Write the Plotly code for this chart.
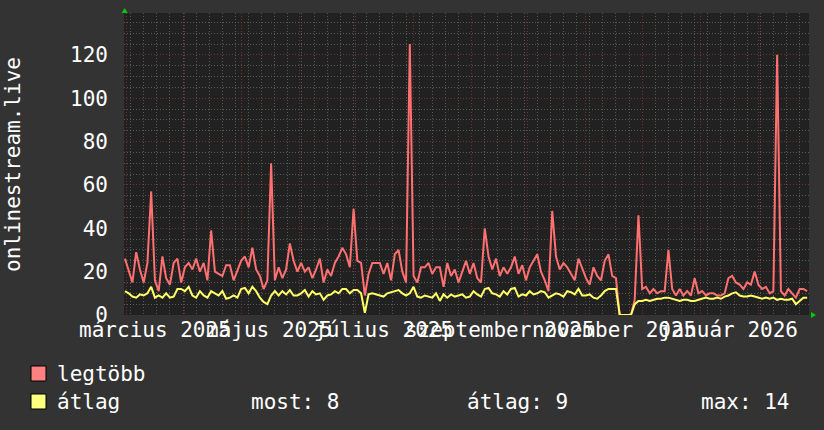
import plotly.graph_objects as go
import pandas as pd

# ---------------- data (2-day samples) ----------------
start_date = "2025-02-28"
step = "2D"

legtobb = [
    26, 20, 15, 29, 21, 15, 24, 57, 16, 11,
    27, 17, 14, 24, 26, 15, 22, 24, 21, 26,
    20, 24, 16, 39, 20, 19, 18, 23, 23, 16,
    21, 25, 27, 22, 31, 21, 18, 12, 16, 70,
    16, 22, 17, 21, 33, 25, 20, 24, 20, 22,
    17, 21, 26, 15, 21, 18, 24, 27, 31, 28,
    22, 49, 25, 24, 9, 19, 24, 24, 24, 19,
    24, 16, 28, 30, 20, 15, 125, 18, 15, 22,
    22, 24, 19, 22, 22, 13, 24, 18, 21, 15,
    20, 25, 19, 24, 17, 15, 40, 27, 21, 26,
    18, 22, 19, 22, 27, 19, 23, 16, 22, 25,
    28, 20, 16, 11, 48, 27, 21, 24, 22, 19,
    16, 26, 21, 17, 14, 22, 18, 16, 25, 28,
    18, 17, 0, 0, 0, 0, 7, 46, 12, 13,
    10, 12, 10, 11, 11, 30, 12, 9, 12, 9,
    11, 9, 17, 10, 11, 9, 10, 10, 9, 9,
    10, 17, 18, 15, 14, 12, 15, 14, 20, 14,
    12, 13, 10, 11, 120, 11, 9, 12, 10, 8,
    12, 12, 11,
]

atlag = [
    11, 10, 8.5, 8, 9.5, 9, 10, 13, 8, 9,
    8, 10, 8, 8.5, 12, 12, 11, 13, 9, 8,
    11, 9, 8, 11, 10, 9, 11, 7.5, 8, 9,
    8, 12, 12.5, 10, 13, 11, 8, 6, 5, 9,
    11, 9, 11, 9.5, 11.5, 9, 9, 10, 11.5, 8.5,
    11, 9.5, 10, 7, 9, 9.5, 11, 10, 12, 12,
    10, 11.5, 11.5, 10, 1, 9.5, 10, 9.5, 9, 8.5,
    10, 10.5, 11, 11.5, 10, 9, 10, 13, 8.5, 8,
    9, 8.5, 8, 10, 6.5, 9.5, 8, 9.5, 8.5, 9,
    9.5, 8, 8.5, 11, 9.5, 8.5, 12, 12.5, 10, 9.5,
    8.5, 11, 9.5, 12, 12.5, 8.5, 9.5, 9, 11, 9.5,
    10, 11, 10.5, 8, 9, 10, 9.5, 8.5, 11, 10.5,
    9.5, 12, 9, 9, 9.5, 8, 7.5, 9, 11, 12,
    12, 12, 0, 0, 0, 0, 5, 6.5, 6.5, 7,
    6.5, 7, 7.5, 7.5, 8, 8, 7.5, 7, 6.5, 7,
    7, 6.5, 6.5, 7, 7.5, 8, 7.5, 7.5, 8, 7.5,
    8.5, 9, 10, 10.5, 9, 8.5, 8.5, 9, 8.5, 8,
    7.5, 8, 7.5, 8, 7, 7.5, 7, 7, 7.5, 5,
    6.5, 8, 8,
]

label_months = ["2025-03-01", "2025-05-01", "2025-07-01", "2025-09-01", "2025-11-01", "2026-01-01"]
label_texts = ["március 2025", "május 2025", "július 2025", "szeptember 2025", "november 2025", "január 2026"]

series_names = ["legtöbb", "átlag"]
stat_texts = ["most: 8", "átlag: 9", "max: 14"]
y_title = "onlinestream.live"

x_range = ["2025-02-27 12:00", "2026-02-28 00:00"]
y_range = [0, 139.3]

# ---------------- figure ----------------
W, H = 824, 430
L, R, T, B = 124, 15, 13, 115
PW, PH = W - L - R, H - T - B

def px(x):
    return (x - L) / PW

def py(y):
    return (H - B - y) / PH

dates = pd.date_range(start_date, periods=len(legtobb), freq=step)

FONT = "DejaVu Sans Mono"
RED = "#FF7070"
YEL = "#FFFF66"
MAJ = "rgba(140,55,55,0.75)"
MIN = "rgba(105,105,105,0.75)"
DOT = "1px,2px"

fig = go.Figure()
fig.add_trace(go.Scatter(x=dates, y=legtobb, mode="lines", line=dict(color=RED, width=2),
                         showlegend=False, hoverinfo="skip"))
fig.add_trace(go.Scatter(x=dates, y=atlag, mode="lines", line=dict(color=YEL, width=2),
                         showlegend=False, hoverinfo="skip"))
# carrier trace for the label axis
fig.add_trace(go.Scatter(x=[x_range[0]], y=[None], xaxis="x2", mode="lines",
                         showlegend=False, hoverinfo="skip"))

label_vals = [pd.Timestamp(m) + pd.Timedelta(days=15) for m in label_months]

fig.update_layout(
    width=W, height=H,
    margin=dict(l=L, r=R, t=T, b=B),
    paper_bgcolor="#333333",
    plot_bgcolor="#212121",
    font=dict(family=FONT, color="white", size=21),
    showlegend=False,
    xaxis=dict(
        type="date", range=x_range,
        dtick="M1", tick0="2025-03-01",
        showticklabels=False, ticks="",
        showgrid=True, gridcolor=MAJ, griddash=DOT, gridwidth=1,
        zeroline=False, showline=False,
        minor=dict(dtick=7 * 86400000, tick0="2025-03-03", showgrid=True,
                   gridcolor=MIN, griddash=DOT, gridwidth=1),
    ),
    xaxis2=dict(
        type="date", range=x_range, overlaying="x", anchor="y", side="bottom",
        tickmode="array", tickvals=label_vals, ticktext=label_texts,
        tickangle=0, showgrid=False, ticks="", zeroline=False, showline=False,
        tickfont=dict(family=FONT, size=21, color="white"),
    ),
    yaxis=dict(
        range=y_range, dtick=20, tick0=0,
        showgrid=True, gridcolor=MAJ, griddash=DOT, gridwidth=1,
        zeroline=False, showline=False, ticks="",
        ticklabelstandoff=15,
        tickfont=dict(family=FONT, size=21, color="white"),
        minor=dict(dtick=5, tick0=0, showgrid=True, gridcolor=MIN, griddash=DOT, gridwidth=1),
    ),
)

annotations = [
    dict(text=y_title, textangle=-90, xref="paper", yref="paper",
         x=px(13), y=py(164), xanchor="center", yanchor="middle", showarrow=False,
         font=dict(family=FONT, size=21, color="white")),
    dict(text=series_names[0], xref="paper", yref="paper", x=px(55), y=py(374),
         xanchor="left", yanchor="middle", showarrow=False,
         font=dict(family=FONT, size=21, color="white")),
    dict(text=series_names[1], xref="paper", yref="paper", x=px(55), y=py(402),
         xanchor="left", yanchor="middle", showarrow=False,
         font=dict(family=FONT, size=21, color="white")),
]
for t, xx in zip(stat_texts, [249, 465, 699]):
    annotations.append(dict(text=t, xref="paper", yref="paper", x=px(xx), y=py(402),
                            xanchor="left", yanchor="middle", showarrow=False,
                            font=dict(family=FONT, size=21, color="white")))
fig.update_layout(annotations=annotations)

shapes = [
    dict(type="rect", xref="paper", yref="paper", x0=px(31), x1=px(46), y0=py(366), y1=py(381),
         fillcolor="#FF8080", line=dict(color="black", width=1)),
    dict(type="rect", xref="paper", yref="paper", x0=px(31), x1=px(46), y0=py(394), y1=py(409),
         fillcolor="#FFFF80", line=dict(color="black", width=1)),
    dict(type="path", xref="paper", yref="paper", xsizemode="pixel", ysizemode="pixel",
         xanchor=px(124.7), yanchor=1, path="M -3,0 L 3,0 L 0,5 Z",
         fillcolor="#00CC00", line=dict(width=0)),
    dict(type="path", xref="paper", yref="paper", xsizemode="pixel", ysizemode="pixel",
         xanchor=px(811), yanchor=0, path="M 0,-3 L 0,3 L 5,0 Z",
         fillcolor="#00CC00", line=dict(width=0)),
]
fig.update_layout(shapes=shapes)

fig.write_html(
    "out.html",
    config={"displayModeBar": False, "staticPlot": True},
    post_script="document.body.style.margin='0';document.body.style.padding='0';"
                "document.documentElement.style.overflow='hidden';",
)
